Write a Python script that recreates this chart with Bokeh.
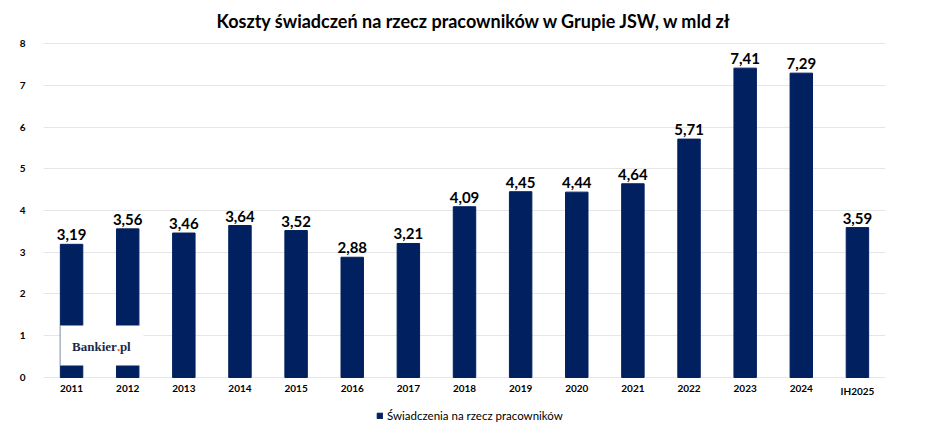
from bokeh.plotting import figure
from bokeh.models import ColumnDataSource, FactorRange, Legend, LegendItem, FixedTicker
from bokeh.transform import dodge
from bokeh.core.properties import value
from bokeh.embed import file_html
from bokeh.resources import INLINE

years = ["2011", "2012", "2013", "2014", "2015", "2016", "2017", "2018",
         "2019", "2020", "2021", "2022", "2023", "2024", "IH2025"]
costs = [3.19, 3.56, 3.46, 3.64, 3.52, 2.88, 3.21, 4.09,
         4.45, 4.44, 4.64, 5.71, 7.41, 7.29, 3.59]
labels = [f"{v:.2f}".replace(".", ",") for v in costs]
y_ticks = [0, 1, 2, 3, 4, 5, 6, 7, 8]

title_text = "Koszty świadczeń na rzecz pracowników w Grupie JSW, w mld zł"
series_name = "Świadczenia na rzecz pracowników"

BAR = "#002060"
FONT = "Lato"

src = ColumnDataSource(dict(year=years, cost=costs, label=labels))

# the frame spans the whole height; the value axis only ticks 0..8
p = figure(x_range=FactorRange(*years), y_range=(-1.2216, 9.030),
           width=932, height=430, output_backend="svg", toolbar_location=None,
           x_axis_location=None,
           min_border_left=43, min_border_right=47, min_border_top=0, min_border_bottom=2)

r = p.vbar(x="year", top="cost", width=0.4, source=src, fill_color=BAR, line_color=BAR)
p.text(x="year", y="cost", text="label", source=src, text_align="center",
       text_baseline="bottom", y_offset=-4, text_font=value(FONT),
       text_font_size="15px", text_font_style="bold", text_color="#000000")

# category labels under the baseline
p.text(x="year", y=0, text="year", source=src, text_align="center",
       text_baseline="top", y_offset=8, text_font=value(FONT),
       text_font_size="10px", text_font_style="bold", text_color="#000000")

# title
tsrc = ColumnDataSource(dict(x=["2018"], t=[title_text]))
p.text(x="x", y=8.55, text="t", source=tsrc, x_offset=10, text_align="center",
       text_baseline="middle", text_font=value(FONT), text_font_size="18px",
       text_font_style="bold", text_color="#000000")

p.outline_line_color = None
p.xgrid.grid_line_color = None
p.ygrid.grid_line_color = "#e6e6e6"
p.yaxis.ticker = FixedTicker(ticks=y_ticks)
ax = p.yaxis
ax.axis_line_color = None
ax.major_tick_line_color = None
ax.minor_tick_line_color = None
ax.major_label_text_font = FONT
ax.major_label_text_font_size = "10px"
ax.major_label_text_font_style = "bold"
ax.major_label_text_color = "#000000"
ax.major_label_standoff = 12

# Bankier.pl watermark, anchored to the "2012" slot
wm = ColumnDataSource(dict(x=["2012"], y=[0.7675], y0=[0.29], y1=[1.245]))
p.rect(x=dodge("x", -0.46, range=p.x_range), y="y", width=1.48, height=0.955,
       source=wm, fill_color="white", line_color=None)
p.segment(x0=dodge("x", -1.2, range=p.x_range), y0="y0",
          x1=dodge("x", -1.2, range=p.x_range), y1="y1",
          source=wm, line_color="#b0b8c8", line_width=1)
for txt, off, col, align in (("Bankier", 15, "#1c2a4f", "right"), (".", 15, "#f26522", "left"),
                             ("pl", 18, "#1c2a4f", "left")):
    p.text(x=dodge("x", -0.46, range=p.x_range), y=0.74, text=value(txt), x_offset=off,
           source=ColumnDataSource(dict(x=["2012"])), text_align=align, text_baseline="middle",
           text_font=value("Liberation Serif"), text_font_size="13px", text_font_style="bold",
           text_color=col)

legend = Legend(items=[LegendItem(label=series_name, renderers=[r])], location=(333, 6),
                orientation="horizontal", border_line_color=None, background_fill_alpha=0,
                label_text_font=FONT, label_text_font_size="11.5px", label_text_color="#000000",
                glyph_width=7, glyph_height=7, label_standoff=4, padding=2, margin=0)
p.add_layout(legend)

open("out.html", "w").write(file_html(p, INLINE))
